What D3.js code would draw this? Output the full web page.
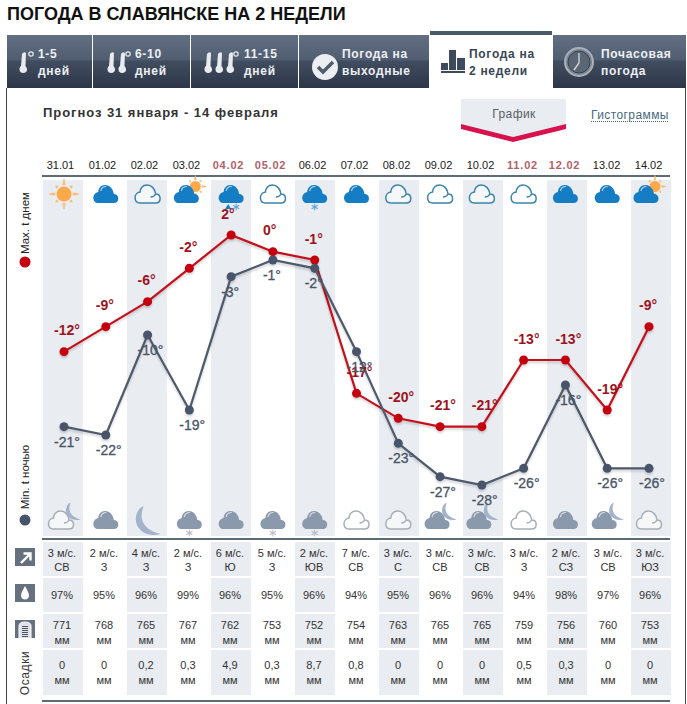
<!DOCTYPE html>
<html>
<head>
<meta charset="utf-8">
<script src="https://cdn.jsdelivr.net/npm/d3@7"></script>
<style>
    body { margin: 0; background: #fff; }
    svg { display: block; }
    text { font-family: "Liberation Sans", Arial, sans-serif; }
</style>
</head>
<body>
<div id="chart"></div>
<script>
const dates = ["31.01", "01.02", "02.02", "03.02", "04.02", "05.02", "06.02", "07.02", "08.02", "09.02", "10.02", "11.02", "12.02", "13.02", "14.02"];
const weekend = ["04.02", "05.02", "11.02", "12.02"];
const maxTemps = [-12, -9, -6, -2, 2, 0, -1, -17, -20, -21, -21, -13, -13, -19, -9];
const minTemps = [-21, -22, -10, -19, -3, -1, -2, -12, -23, -27, -28, -26, -16, -26, -26];
const dayIcons = ["sun", "cloud", "outline", "suncloud", "sleet", "outline", "snow", "cloud", "outline", "outline", "outline", "outline", "cloud", "cloud", "suncloud"];
const nightIcons = ["outlinemoon", "cloud", "moon", "snow", "cloud", "snow", "snow", "outline", "outline", "cloudmoon", "cloudmoon", "outline", "cloud", "cloudmoon", "outline"];
const windSpeed = [3, 2, 4, 2, 6, 5, 2, 7, 3, 3, 3, 3, 2, 3, 3];
const windDir = ["СВ", "З", "З", "З", "Ю", "З", "ЮВ", "СВ", "С", "СВ", "СВ", "З", "СЗ", "СВ", "ЮЗ"];
const humidity = [97, 95, 96, 99, 96, 95, 96, 94, 95, 96, 96, 94, 98, 97, 96];
const pressure = [771, 768, 765, 767, 762, 753, 752, 754, 763, 765, 765, 759, 756, 760, 753];
const precip = ["0", "0", "0,2", "0,3", "4,9", "0,3", "8,7", "0,8", "0", "0", "0", "0,5", "0,3", "0", "0"];
const tabs = [
    {x: 7, w: 85, a: "1-5", b: "дней", tx: 38},
    {x: 93, w: 97, a: "6-10", b: "дней", tx: 135},
    {x: 191, w: 107, a: "11-15", b: "дней", tx: 244},
    {x: 299, w: 130, a: "Погода на", b: "выходные", tx: 342},
    {x: 553, w: 133, a: "Почасовая", b: "погода", tx: 601}
];

const width = 687, height = 704;
const svg = d3.select("#chart").append("svg")
    .attr("width", width)
    .attr("height", height);

const defs = svg.append("defs");
const grad = defs.append("linearGradient").attr("id", "tabGrad")
    .attr("x1", 0).attr("x2", 0).attr("y1", 0).attr("y2", 1);
[[0, "#626e82"], [0.47, "#515d70"], [0.49, "#414d60"], [1, "#2d3648"]].forEach(s => {
    grad.append("stop").attr("offset", s[0]).attr("stop-color", s[1]);
});

// scales
const band = d3.scaleBand().domain(dates).range([43, 671]).paddingInner(0.05);
const x = d3.scalePoint().domain(dates).range([64, 649]);
const y = d3.scaleLinear().domain([2, -28]).range([235, 485]);
const mid = d => band(d) + band.bandwidth() / 2;

// header
svg.append("text")
    .attr("x", 7).attr("y", 20)
    .style("font-size", "18px").style("font-weight", "bold").style("fill", "#111")
    .text("ПОГОДА В СЛАВЯНСКЕ НА 2 НЕДЕЛИ");

// tabs
const tabG = svg.append("g");
tabG.selectAll("rect").data(tabs).enter().append("rect")
    .attr("x", d => d.x).attr("y", 35)
    .attr("width", d => d.w).attr("height", 53)
    .attr("fill", "url(#tabGrad)");
tabG.selectAll(".a").data(tabs).enter().append("text")
    .attr("x", d => d.tx).attr("y", 58)
    .style("font-size", "12px").style("font-weight", "bold").style("letter-spacing", "0.7px")
    .style("fill", "#eef0f3").text(d => d.a);
tabG.selectAll(".b").data(tabs).enter().append("text")
    .attr("x", d => d.tx).attr("y", 75)
    .style("font-size", "12px").style("font-weight", "bold").style("letter-spacing", "0.7px")
    .style("fill", "#eef0f3").text(d => d.b);

// active tab
svg.append("rect").attr("x", 430).attr("y", 31).attr("width", 122).attr("height", 4).attr("fill", "#4b5968");
svg.append("text").attr("x", 469).attr("y", 58)
    .style("font-size", "12px").style("font-weight", "bold").style("letter-spacing", "0.7px")
    .style("fill", "#3a4656").text("Погода на");
svg.append("text").attr("x", 469).attr("y", 75)
    .style("font-size", "12px").style("font-weight", "bold").style("letter-spacing", "0.7px")
    .style("fill", "#3a4656").text("2 недели");
[[441, 63, 7, 7], [449, 50, 7, 20], [457, 58, 8, 12], [441, 71, 24, 2]].forEach(b => {
    svg.append("rect").attr("x", b[0]).attr("y", b[1]).attr("width", b[2]).attr("height", b[3]).attr("fill", "#3d4a5b");
});

// frame
svg.append("line").attr("x1", 6.5).attr("x2", 6.5).attr("y1", 88).attr("y2", height).attr("stroke", "#444");
svg.append("line").attr("x1", 685.5).attr("x2", 685.5).attr("y1", 88).attr("y2", height).attr("stroke", "#444");

// tab icons
function thermo(cx) {
    const g = svg.append("g").attr("transform", `translate(${cx},0)`).attr("fill", "#e8ebef");
    g.append("path").attr("d", "M-1,54 Q1,51 3,53 L2.5,66 Q5,69 3.5,71.5 Q0,74.5 -3,71.5 Q-4.5,68 -2,66 Z");
}
[23, 111, 122, 208, 219, 230].forEach(thermo);
[31, 128, 236].forEach(cx => {
    svg.append("circle").attr("cx", cx).attr("cy", 54).attr("r", 2.2)
        .attr("fill", "none").attr("stroke", "#e8ebef").attr("stroke-width", 1.2);
});
svg.append("circle").attr("cx", 325).attr("cy", 67).attr("r", 13).attr("fill", "#eceef2");
svg.append("path").attr("d", "M318,67 L323,72 L333,62").attr("fill", "none").attr("stroke", "#4f5b6e").attr("stroke-width", 3.5);
svg.append("circle").attr("cx", 579).attr("cy", 62).attr("r", 14).attr("fill", "#7b8694").attr("stroke", "#a9b0b9").attr("stroke-width", 2);
svg.append("circle").attr("cx", 579).attr("cy", 62).attr("r", 11).attr("fill", "#5b6675").attr("stroke", "#39434f").attr("stroke-width", 1);
svg.append("path").attr("d", "M579,53 V63 L574,70").attr("fill", "none").attr("stroke", "#d5d9de").attr("stroke-width", 1.3);

// subtitle and switch
svg.append("text").attr("x", 43).attr("y", 117)
    .style("font-size", "13px").style("font-weight", "bold").style("letter-spacing", "0.95px").style("fill", "#333")
    .text("Прогноз 31 января - 14 февраля");
svg.append("path").attr("d", "M461,99 H566 V124 L513,137 L461,124 Z").attr("fill", "#e9ecf0");
svg.append("path").attr("d", "M461,124 L513,137 L566,124 V129 L513,142 L461,129 Z").attr("fill", "#d6134f");
svg.append("text").attr("x", 514).attr("y", 118).attr("text-anchor", "middle")
    .style("font-size", "12px").style("letter-spacing", "0.4px").style("fill", "#5a5f66").text("График");
svg.append("text").attr("x", 591).attr("y", 119)
    .style("font-size", "12px").style("letter-spacing", "0.4px").style("fill", "#48687c").text("Гистограммы");
svg.append("line").attr("x1", 591).attr("x2", 669).attr("y1", 121.5).attr("y2", 121.5)
    .attr("stroke", "#48687c").attr("stroke-dasharray", "1,1");

// column bands
const shaded = dates.filter((d, i) => i % 2 === 0);
svg.append("g").selectAll("rect").data(shaded).enter().append("rect")
    .attr("x", d => band(d)).attr("y", 180)
    .attr("width", band.bandwidth()).attr("height", 356)
    .attr("fill", "#e9ecf1");

// date labels
svg.append("g").selectAll("text").data(dates).enter().append("text")
    .attr("x", d => mid(d) - 2.5).attr("y", 169).attr("text-anchor", "middle")
    .style("font-size", "11px")
    .style("font-weight", d => weekend.includes(d) ? "bold" : "normal")
    .style("letter-spacing", d => weekend.includes(d) ? "0.8px" : "0")
    .style("fill", d => weekend.includes(d) ? "#b0626a" : "#222")
    .text(d => d);

// rules
[[175, 176], [538, 538], [700, 700]].forEach(r => {
    svg.append("rect").attr("x", 42).attr("y", r[0]).attr("width", 628).attr("height", 2).attr("fill", "#5f6b74");
});

// weather icons
const cloudPath = "M-7.5,9 H8 C11,9 12.5,7 12.5,4.5 C12.5,1.5 10.5,0 8,0 C7.5,-5 4,-9 -0.5,-9 C-5,-9 -7.5,-5.5 -7.5,-2 C-10.5,-1.5 -12.5,1 -12.5,3.5 C-12.5,7 -10.5,9 -7.5,9 Z";
const moonPath = "M-4,-14 C-13,-10 -14,3 -8,9 C-3,15 6,16 13,14 C3,12 -5,6 -6,-3 C-6,-7 -5,-11 -4,-14 Z";

function drawCloud(g, dx, dy, fill) {
    const c = g.append("g").attr("transform", `translate(${dx},${dy})`);
    c.append("path").attr("d", cloudPath).attr("fill", fill);
    c.append("path").attr("d", "M-5,-3 C-4.5,-6 -2,-7.5 0.5,-7.5")
        .attr("fill", "none").attr("stroke", "#fff").attr("stroke-width", 1.2).attr("opacity", 0.7);
}
function drawOutline(g, dx, dy, stroke) {
    const c = g.append("g").attr("transform", `translate(${dx},${dy})`);
    c.append("path").attr("d", cloudPath).attr("fill", "#fff").attr("fill-opacity", 0.6)
        .attr("stroke", stroke).attr("stroke-width", 1.5);
    c.append("path").attr("d", "M8,0 C7,2 5,3 3,3").attr("fill", "none").attr("stroke", stroke).attr("stroke-width", 1.3);
}
function drawSun(g, dx, dy, r) {
    const s = g.append("g").attr("transform", `translate(${dx},${dy})`);
    d3.range(8).forEach(i => {
        const long = i % 2 === 0 ? 2 : 1.55;
        s.append("path")
            .attr("d", `M${-r * 0.16},${-r * 1.25} L0,${-r * long} L${r * 0.16},${-r * 1.25} Z`)
            .attr("fill", "#fdb76a").attr("stroke", "#fdb76a").attr("stroke-width", 0.6)
            .attr("transform", `rotate(${i * 45})`);
    });
    s.append("circle").attr("r", r).attr("fill", "#fda94a");
}
function drawFlake(g, dx, dy, color) {
    const f = g.append("g").attr("transform", `translate(${dx},${dy})`).attr("stroke", color).attr("stroke-width", 1);
    [0, 60, 120].forEach(a => {
        f.append("line").attr("y1", -3.5).attr("y2", 3.5).attr("transform", `rotate(${a})`);
    });
}
function drawIcon(g, type, night) {
    const fill = night ? "#8b99ad" : "#157dc4";
    const stroke = night ? "#a8afb7" : "#3b84ad";
    if (type === "sun") {
        drawSun(g, 0, 0, 7.5);
    } else if (type === "cloud") {
        drawCloud(g, 0, 0, fill);
    } else if (type === "outline") {
        drawOutline(g, 0, 0, stroke);
    } else if (type === "suncloud") {
        drawSun(g, 6, -7.5, 5.5);
        drawCloud(g, -3, 0, fill);
    } else if (type === "sleet") {
        drawCloud(g, 0, 0, fill);
        g.append("path").attr("d", "M-3,10 L-6,15 H0 Z").attr("fill", fill);
        drawFlake(g, 5, 13, "#5ba3d8");
    } else if (type === "snow") {
        drawCloud(g, 0, 0, fill);
        drawFlake(g, 0, 13, night ? "#b6bdc7" : "#5ba3d8");
    } else if (type === "moon") {
        g.append("path").attr("d", moonPath).attr("fill", "#a3b3cb");
    } else if (type === "outlinemoon" || type === "cloudmoon") {
        g.append("path").attr("d", moonPath).attr("fill", "#a3b3cb")
            .attr("transform", "translate(9,-9) scale(0.6)");
        if (type === "cloudmoon") drawCloud(g, -3, 0, fill);
        else drawOutline(g, -3, 0, stroke);
    }
}
dates.forEach((d, i) => {
    drawIcon(svg.append("g").attr("transform", `translate(${x(d)},194)`), dayIcons[i], false);
    drawIcon(svg.append("g").attr("transform", `translate(${x(d)},520)`), nightIcons[i], true);
});

// temperature lines
function drawSeries(values, color, dotColor) {
    const line = d3.line().x((v, i) => x(dates[i])).y(v => y(v));
    const g = svg.append("g").style("filter", "drop-shadow(0 2px 1px rgba(0,0,0,0.18))");
    g.append("path").attr("d", line(values))
        .attr("fill", "none").attr("stroke", color).attr("stroke-width", 2.2);
    g.selectAll("circle").data(values).enter().append("circle")
        .attr("cx", (v, i) => x(dates[i])).attr("cy", v => y(v))
        .attr("r", 4.5).attr("fill", dotColor);
}
drawSeries(maxTemps, "#c3101c", "#c4000f");
drawSeries(minTemps, "#4e5a6c", "#47546a");

const fmt = v => v + "°";
svg.append("g").selectAll("text").data(maxTemps).enter().append("text")
    .attr("x", (v, i) => x(dates[i]) - 10).attr("y", v => y(v) - 16.5)
    .style("font-size", "14px").style("font-weight", "bold").style("fill", "#9e1320")
    .text(fmt);
svg.append("g").selectAll("text").data(minTemps).enter().append("text")
    .attr("x", (v, i) => x(dates[i]) - 10).attr("y", v => y(v) + 20)
    .style("font-size", "14px").style("fill", "#4a5567")
    .style("stroke", "#4a5567").style("stroke-width", 0.3)
    .text(fmt);

// legend on the left
function vLabel(text, cy, size, spacing, color) {
    svg.append("text")
        .attr("transform", `translate(29,${cy}) rotate(-90)`)
        .attr("text-anchor", "middle")
        .style("font-size", size).style("letter-spacing", spacing).style("fill", color)
        .text(text);
}
vLabel("Max. t днем", 223, "11.5px", "0px", "#222");
vLabel("Min. t ночью", 477, "11.5px", "0px", "#222");
vLabel("Осадки", 673, "12px", "0.6px", "#333");
svg.append("circle").attr("cx", 25).attr("cy", 262).attr("r", 5.5).attr("fill", "#c4000f");
svg.append("circle").attr("cx", 25).attr("cy", 520).attr("r", 5.5).attr("fill", "#47546a");

// table rows
const rows = [
    {top: 542, h: 34, lines: [{y: 557, t: i => windSpeed[i] + " м/с."}, {y: 571, t: i => windDir[i]}]},
    {top: 578, h: 34, lines: [{y: 599, t: i => humidity[i] + "%"}]},
    {top: 614, h: 34, lines: [{y: 629, t: i => pressure[i]}, {y: 644, t: () => "мм"}]},
    {top: 650, h: 45, lines: [{y: 669, t: i => precip[i]}, {y: 684, t: () => "мм"}]}
];
rows.forEach(r => {
    const g = svg.append("g");
    g.selectAll("rect").data(shaded).enter().append("rect")
        .attr("x", d => band(d)).attr("y", r.top)
        .attr("width", band.bandwidth()).attr("height", r.h)
        .attr("fill", "#e9ecf1");
    r.lines.forEach(l => {
        g.selectAll(null).data(dates).enter().append("text")
            .attr("x", d => mid(d) - 1).attr("y", l.y).attr("text-anchor", "middle")
            .style("font-size", "11px").style("fill", "#333")
            .text((d, i) => l.t(i));
    });
});

// row icons
[[548, 18], [584, 18], [620, 18]].forEach(b => {
    svg.append("rect").attr("x", 15).attr("y", b[0]).attr("width", 20).attr("height", b[1]).attr("fill", "#667180");
});
svg.append("path").attr("d", "M21,563 L29,555 M23.5,553.5 H30.5 V560.5").attr("fill", "none").attr("stroke", "#fff").attr("stroke-width", 2.4);
svg.append("path").attr("d", "M25,586 C27,590 29,593 29,595.5 C29,598 27,599.5 25,599.5 C23,599.5 21,598 21,595.5 C21,593 23,590 25,586 Z").attr("fill", "#fff");
svg.append("path").attr("d", "M19,638 V626 Q19,622 25,622 Q31,622 31,626 V638").attr("fill", "#dfe3e8").attr("stroke", "#fff");
d3.range(6).forEach(i => {
    svg.append("rect").attr("x", 22).attr("y", 626 + i * 2).attr("width", 6).attr("height", 1).attr("fill", "#4b5664");
});
</script>
</body>
</html>
